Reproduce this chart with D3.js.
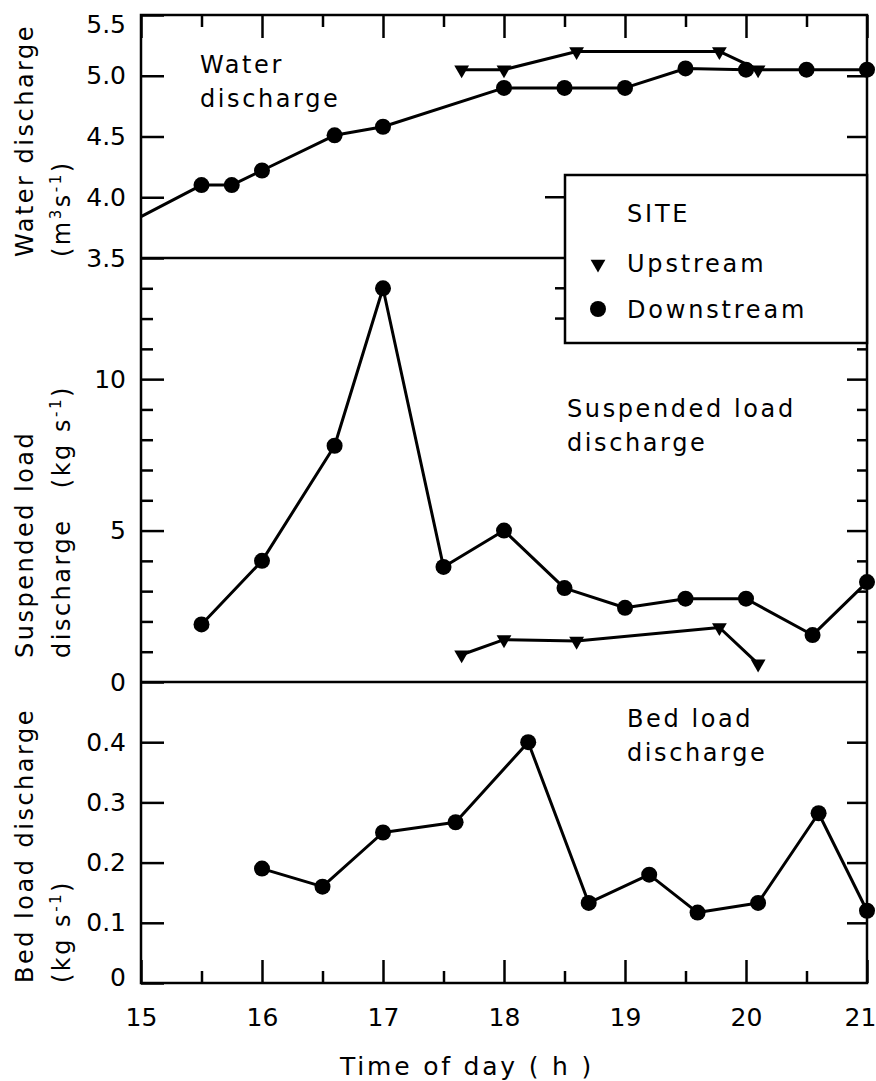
<!DOCTYPE html>
<html>
<head>
<meta charset="utf-8">
<script src="https://cdn.jsdelivr.net/npm/d3@7"></script>
<style>
  body { margin: 0; background: #fff; }
  text { font-family: "DejaVu Sans", sans-serif; fill: #000; }
</style>
</head>
<body>
<script>
// water discharge (m3/s)
var waterDownTime  = [15.0, 15.5, 15.75, 16.0, 16.6, 17.0, 18.0, 18.5, 19.0, 19.5, 20.0, 20.5, 21.0];
var waterDownValue = [3.84, 4.1, 4.1, 4.22, 4.51, 4.58, 4.9, 4.9, 4.9, 5.06, 5.05, 5.05, 5.05];
var upTime         = [17.65, 18.0, 18.6, 19.78, 20.1];
var waterUpValue   = [5.05, 5.05, 5.2, 5.2, 5.05];

// suspended load (kg/s)
var suspDownTime  = [15.5, 16.0, 16.6, 17.0, 17.5, 18.0, 18.5, 19.0, 19.5, 20.0, 20.55, 21.0];
var suspDownValue = [1.9, 4.0, 7.8, 13.0, 3.8, 5.0, 3.1, 2.45, 2.75, 2.75, 1.55, 3.3];
var suspUpValue   = [0.9, 1.4, 1.35, 1.8, 0.6];

// bed load (kg/s)
var bedTime  = [16.0, 16.5, 17.0, 17.6, 18.2, 18.7, 19.2, 19.6, 20.1, 20.6, 21.0];
var bedValue = [0.19, 0.16, 0.25, 0.267, 0.40, 0.133, 0.18, 0.117, 0.133, 0.282, 0.12];

// ticks
var xMajor = [15, 16, 17, 18, 19, 20, 21];
var xMinor = [15.5, 16.5, 17.5, 18.5, 19.5, 20.5];
var waterTicks = [3.5, 4.0, 4.5, 5.0, 5.5];
var suspMajor = [0, 5, 10];
var suspMinor = [1, 2, 3, 4, 6, 7, 8, 9, 11, 12, 13];
var bedTicks = [0, 0.1, 0.2, 0.3, 0.4];

var W = 876, H = 1081;
var pLeft = 141, pRight = 867, pTop = 15, pBottom = 983;
var split1 = 258, split2 = 682;
var legend = {x: 565, y: 175, w: 302, h: 168};

var svg = d3.select("body").append("svg")
    .attr("width", W)
    .attr("height", H);

var x = d3.scaleLinear().domain([15, 21]).range([pLeft, pRight]);
var yWater = d3.scaleLinear().domain([3.5, 5.5]).range([split1, pTop]);
var ySusp = d3.scaleLinear().domain([0, 14]).range([split2, split1]);
var yBed = d3.scaleLinear().domain([0, 0.5]).range([pBottom, split2]);

function styleAxis(g){
	g.select(".domain").remove();
	g.selectAll("line").attr("stroke", "#000").attr("stroke-width", 2.5);
	g.selectAll("text").attr("font-size", 25).attr("font-family", "DejaVu Sans, sans-serif").attr("fill", "#000");
}

// left y axes (ticks point inward)
function leftAxis(scale, values, size, fmt){
	var g = svg.append("g").attr("transform", "translate(" + pLeft + ",0)")
		.call(d3.axisLeft(scale).tickValues(values).tickSize(-size).tickPadding(15).tickFormat(fmt));
	styleAxis(g);
	return g;
}
var rightTicks = [];
function rightAxis(scale, values, size){
	var g = svg.append("g").attr("transform", "translate(" + pRight + ",0)")
		.call(d3.axisRight(scale).tickValues(values).tickSize(-size).tickFormat(""));
	styleAxis(g);
	values.forEach(function(v){ rightTicks.push([scale(v), size]); });
	return g;
}

var gw = leftAxis(yWater, waterTicks, 23, d3.format(".1f"));
gw.selectAll(".tick").filter(function(d){ return d === 5.5; }).select("text").attr("dy", "0.7em");
leftAxis(ySusp, suspMajor, 23, d3.format("d"));
leftAxis(ySusp, suspMinor, 12, "");
var gb = leftAxis(yBed, bedTicks, 23, function(d){ return d === 0 ? "0" : d3.format(".1f")(d); });
gb.selectAll(".tick").filter(function(d){ return d === 0; }).select("text").attr("dy", "0.1em");

rightAxis(yWater, [4.0, 4.5, 5.0], 20);
rightAxis(ySusp, [5, 10], 20);
rightAxis(ySusp, suspMinor, 10);
rightAxis(yBed, [0.1, 0.2, 0.3, 0.4], 20);

// x axes, bottom and top edge
var gx = svg.append("g").attr("transform", "translate(0," + pBottom + ")")
	.call(d3.axisBottom(x).tickValues(xMajor).tickSize(-23).tickPadding(25).tickFormat(d3.format("d")));
styleAxis(gx);
gx.selectAll(".tick").filter(function(d){ return d === 21; }).select("text").attr("dx", -7);
styleAxis(svg.append("g").attr("transform", "translate(0," + pBottom + ")")
	.call(d3.axisBottom(x).tickValues(xMinor).tickSize(-12).tickFormat("")));
styleAxis(svg.append("g").attr("transform", "translate(0," + pTop + ")")
	.call(d3.axisTop(x).tickValues(xMajor).tickSize(-23).tickFormat("")));
styleAxis(svg.append("g").attr("transform", "translate(0," + pTop + ")")
	.call(d3.axisTop(x).tickValues(xMinor).tickSize(-12).tickFormat("")));

// frame
var frame = svg.append("g").attr("stroke", "#000").attr("stroke-width", 2.5);
frame.append("rect").attr("x", pLeft).attr("y", pTop).attr("width", pRight - pLeft).attr("height", pBottom - pTop).attr("fill", "none");
frame.append("line").attr("x1", pLeft).attr("x2", pRight).attr("y1", split1).attr("y2", split1);
frame.append("line").attr("x1", pLeft).attr("x2", pRight).attr("y1", split2).attr("y2", split2);

// series
function drawLine(times, values, yScale){
	var pts = times.map(function(t, i){ return [x(t), yScale(values[i])]; });
	svg.append("path")
		.attr("d", d3.line()(pts))
		.attr("fill", "none")
		.attr("stroke", "#000")
		.attr("stroke-width", 3)
		.attr("stroke-linejoin", "round");
	return pts;
}
function drawCircles(pts){
	svg.append("g").selectAll("circle").data(pts).join("circle")
		.attr("cx", function(d){ return d[0]; })
		.attr("cy", function(d){ return d[1]; })
		.attr("r", 8)
		.attr("fill", "#000");
}
var tri = d3.symbol().type(d3.symbolTriangle).size(95);
function drawTriangles(pts){
	svg.append("g").selectAll("path").data(pts).join("path")
		.attr("d", tri)
		.attr("transform", function(d){ return "translate(" + d[0] + "," + d[1] + ") rotate(180)"; })
		.attr("fill", "#000");
}

var wd = drawLine(waterDownTime, waterDownValue, yWater);
drawCircles(wd.filter(function(d, i){ return waterDownTime[i] > 15; }));
drawTriangles(drawLine(upTime, waterUpValue, yWater));

drawCircles(drawLine(suspDownTime, suspDownValue, ySusp));
drawTriangles(drawLine(upTime, suspUpValue, ySusp));

drawCircles(drawLine(bedTime, bedValue, yBed));

// legend box (covers right ticks, which are shown at its left edge)
svg.append("rect")
	.attr("x", legend.x).attr("y", legend.y).attr("width", legend.w).attr("height", legend.h)
	.attr("fill", "#fff").attr("stroke", "#000").attr("stroke-width", 2.5);
rightTicks.forEach(function(t){
	if (t[0] > legend.y && t[0] < legend.y + legend.h) {
		svg.append("line")
			.attr("x1", legend.x).attr("x2", legend.x - t[1])
			.attr("y1", t[0]).attr("y2", t[0])
			.attr("stroke", "#000").attr("stroke-width", 2.5);
	}
});

var lg = svg.append("g").attr("font-size", 24).style("letter-spacing", "2.8px");
lg.append("text").attr("x", 627).attr("y", 222).text("SITE");
lg.append("text").attr("x", 627).attr("y", 272).text("Upstream");
lg.append("text").attr("x", 627).attr("y", 318).text("Downstream");
lg.append("path").attr("d", tri).attr("transform", "translate(598,264) rotate(180)").attr("fill", "#000");
lg.append("circle").attr("cx", 598).attr("cy", 309).attr("r", 8).attr("fill", "#000");

// panel titles
var ann = svg.append("g").attr("font-size", 24).style("letter-spacing", "2.6px");
function twoLines(tx, ty, a, b){
	var t = ann.append("text").attr("x", tx).attr("y", ty);
	t.append("tspan").attr("x", tx).text(a);
	t.append("tspan").attr("x", tx).attr("dy", 34).text(b);
}
twoLines(200, 73, "Water", "discharge");
twoLines(567, 417, "Suspended load", "discharge");
twoLines(627, 727, "Bed load", "discharge");

// y axis titles, rotated
function yTitle(tx, ty, parts){
	var t = svg.append("text")
		.attr("transform", "translate(" + tx + "," + ty + ") rotate(-90)")
		.attr("font-size", 24)
		.style("letter-spacing", "2.5px");
	parts.forEach(function(p){
		var s = t.append("tspan").text(p[0]);
		if (p[1]) s.attr("font-size", 15).attr("dy", p[1]);
		if (p[2]) s.attr("dy", p[2]);
	});
}
yTitle(33, 257, [["Water discharge"]]);
yTitle(70, 257, [["(m"], ["3", -9], ["s", 0, 9], ["-1", -9], [")", 0, 9]]);
yTitle(33, 658, [["Suspended load"]]);
yTitle(70, 658, [["discharge\u00a0\u00a0 (kg s"], ["-1", -9], [")", 0, 9]]);
yTitle(33, 983, [["Bed load discharge"]]);
yTitle(70, 983, [["(kg s"], ["-1", -9], [")", 0, 9]]);

// x axis title
svg.append("text")
	.attr("x", 340).attr("y", 1075)
	.attr("font-size", 25)
	.style("letter-spacing", "2.8px")
	.text("Time of day ( h )");
</script>
</body>
</html>
